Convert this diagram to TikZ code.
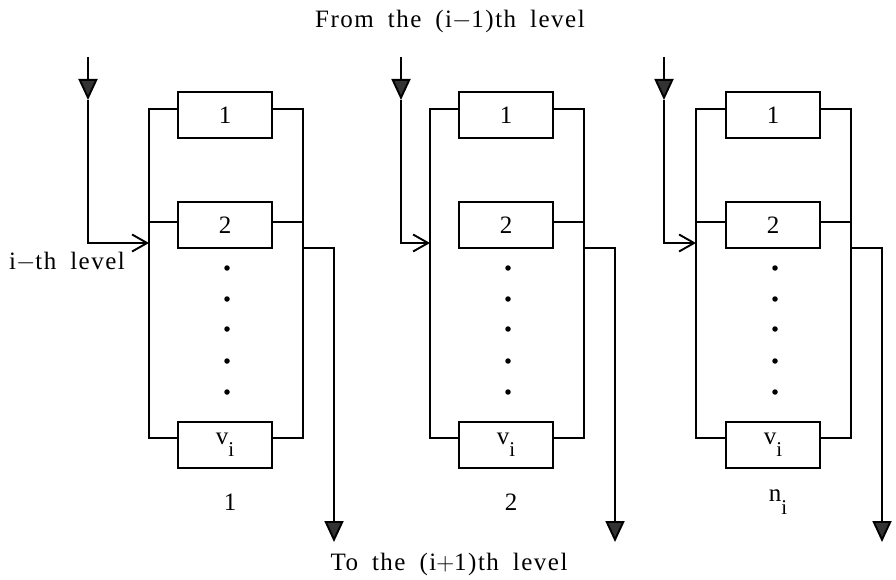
\documentclass[tikz,border=0pt]{standalone}
\usepackage{fontspec}
\setmainfont{Liberation Serif}
\newfontfamily\spaced[LetterSpace=6,WordSpace=1.8]{Liberation Serif}
\usetikzlibrary{arrows.meta}
\newcommand\txt{\fontsize{25}{29}\selectfont}
\newcommand\subtxt{\fontsize{21}{24}\selectfont}
\tikzset{
  wire/.style={line width=1.9pt},
  box/.style={draw, line width=1.9pt, minimum width=94pt, minimum height=46pt, inner sep=0pt, font=\txt},
  lbl/.style={inner sep=0pt, font=\txt\spaced},
  fillarrow/.style={-{Triangle[length=21pt,width=19pt,fill=black!80]}},
  openarrow/.style={-{Straight Barb[length=15pt,width=17pt]}},
  dot/.style={circle, fill=black, inner sep=0pt, minimum size=5.5pt}
}
\begin{document}
\begin{tikzpicture}[x=1pt,y=-1pt]
\useasboundingbox (0,0) rectangle (896,580);
\node[lbl] (from) at (450,21) {From the (i$-$1)th level};
\node[lbl] (to) at (449,564) {To the (i$+$1)th level};
\node[lbl] (lev) at (67,262) {i$-$th level};
\foreach \k/\xin/\xl/\xc/\xr/\xo/\lab in {1/88/149/225/303/334/1, 2/401/430/506/584/615/2, 3/664/696/773/851/882/{n\raisebox{-0.55em}{\subtxt i}}}{
  \node[box] (A\k) at (\xc,115) {1};
  \node[box] (B\k) at (\xc,225) {2};
  \node[box] (C\k) at (\xc,445) {v\raisebox{-0.5em}{\subtxt i}};
  \node[inner sep=0pt, font=\txt] (N\k) at (\xc+5,502) {\lab};
  \coordinate (tl\k) at (\xl,109);
  \coordinate (bl\k) at (\xl,438);
  \coordinate (tr\k) at (\xr,109);
  \coordinate (br\k) at (\xr,438);
  \coordinate (ml\k) at (\xl,222);
  \coordinate (mr\k) at (\xr,222);
  \coordinate (in\k) at (\xin,57);
  \coordinate (mid\k) at (\xin,100);
  \coordinate (cor\k) at (\xin,243);
  \coordinate (ent\k) at (\xl,243);
  \coordinate (tap\k) at (\xr,248);
  \coordinate (ocor\k) at (\xo,248);
  \coordinate (out\k) at (\xo,542);
  \draw[wire] (A\k.west |- tl\k) -- (tl\k) -- (bl\k) -- (C\k.west |- bl\k);
  \draw[wire] (A\k.east |- tr\k) -- (tr\k) -- (br\k) -- (C\k.east |- br\k);
  \draw[wire] (B\k.east |- mr\k) -- (mr\k);
  \draw[wire, fillarrow] (in\k) -- (mid\k);
  \draw[wire, openarrow] (mid\k) -- (cor\k) -- (ent\k);
  \draw[wire, fillarrow] (tap\k) -- (ocor\k) -- (out\k);
  \foreach \y in {268,299,329,361,392}{
    \node[dot] at (\xc+2,\y) {};
  }
}
\draw[wire] (B1.west |- ml1) -- (ml1);
\draw[wire] (B3.west |- ml3) -- (ml3);
\end{tikzpicture}
\end{document}
